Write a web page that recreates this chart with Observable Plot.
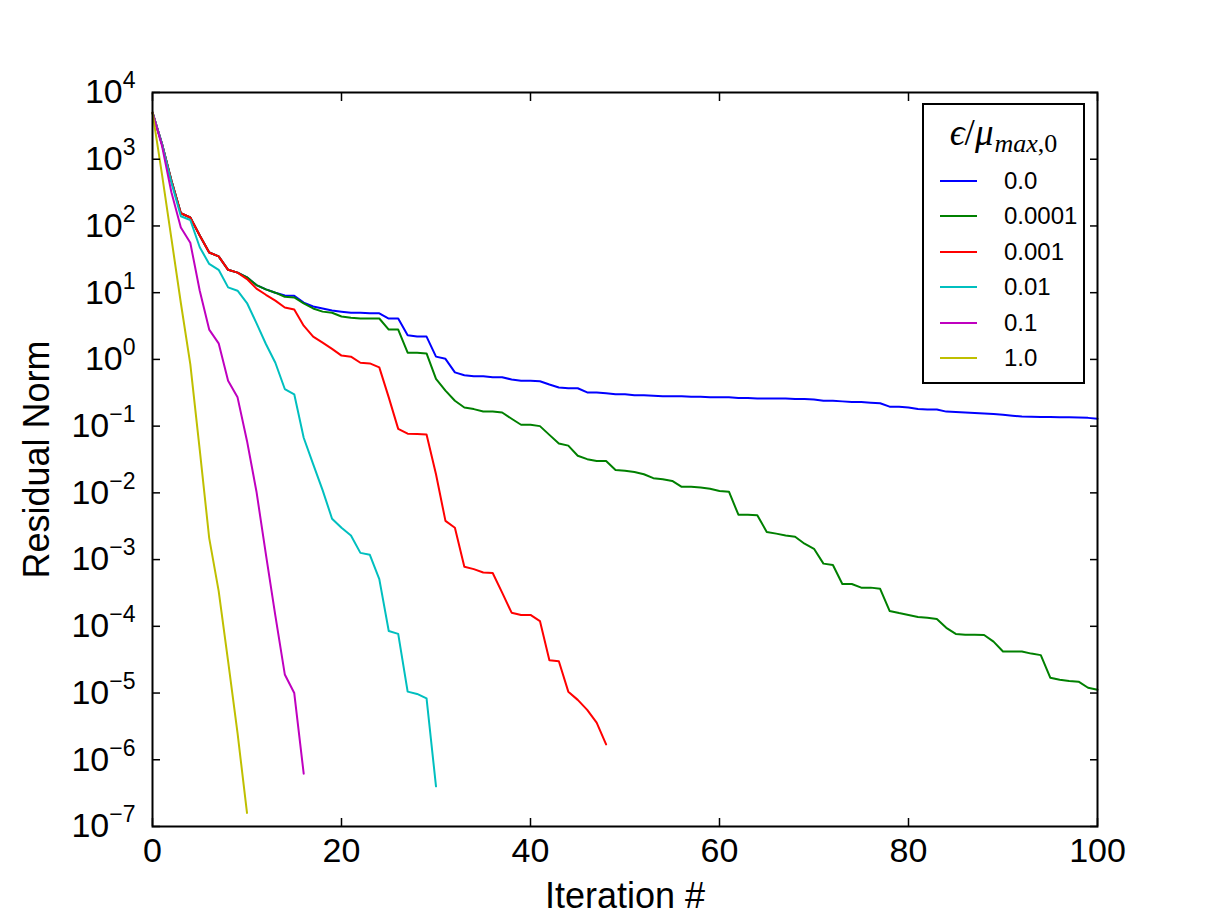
<!DOCTYPE html>
<html>
<head>
<meta charset="utf-8">
<script src="https://cdn.jsdelivr.net/npm/d3@7"></script>
<script src="https://cdn.jsdelivr.net/npm/@observablehq/plot@0.6"></script>
<style>
  html, body { margin: 0; padding: 0; background: #fff; }
  #wrap { position: relative; width: 1219px; height: 919px; font-family: "Liberation Sans", Arial, sans-serif; }
  #legend { position: absolute; left: 922px; top: 103px; width: 163px; height: 281px; box-sizing: border-box; border: 2px solid #000; background: #fff; }
  #legend .title { position: absolute; left: 0; right: 0; top: 10px; text-align: center; font-family: "Liberation Serif", "DejaVu Serif", serif; font-size: 37px; line-height: 36px; white-space: nowrap; }
  #legend .title .sub { font-size: 26px; position: relative; top: 7px; margin-left: 1px; }
  #legend .row { position: absolute; left: 0; right: 0; height: 36px; }
  #legend .swatch { position: absolute; left: 16px; width: 37px; top: 17px; height: 2px; }
  #legend .lab { position: absolute; left: 80px; top: 0; line-height: 36px; font-size: 24px; white-space: nowrap; }
</style>
</head>
<body>
<div id="wrap"></div>
<script>
// ---- data ----
const seriesLabels = ["0.0", "0.0001", "0.001", "0.01", "0.1", "1.0"];
const seriesColors = ["#0000ff", "#008000", "#ff0000", "#00bfbf", "#bf00bf", "#bfbf00"];

const res_eps_0 = [5000,1700,480,155,134,72,40,35,22,20, 17,13,11.2,10,9.1,9.0,7.1,6.2,5.8,5.4,
  5.2,5.0,5.0,4.9,4.9,4.1,4.1,2.3,2.2,2.2, 1.1,1.02,0.64,0.58,0.56,0.56,0.54,0.54,0.50,0.48,
  0.48,0.47,0.42,0.38,0.37,0.37,0.32,0.32,0.31,0.30, 0.30,0.29,0.29,0.285,0.28,0.28,0.28,0.275,0.275,0.27,
  0.27,0.27,0.265,0.265,0.26,0.26,0.26,0.26,0.255,0.255, 0.25,0.24,0.24,0.235,0.23,0.23,0.225,0.22,0.196,0.195,
  0.19,0.18,0.178,0.177,0.165,0.163,0.16,0.157,0.155,0.152, 0.148,0.143,0.139,0.138,0.137,0.137,0.136,0.136,0.135,0.133,
  0.129];
const res_eps_1e4 = [5000,1700,480,155,134,72,40,35,22,20, 17,13,11.2,10,8.7,8.5,6.9,5.8,5.2,5.0,
  4.4,4.2,4.1,4.1,4.1,2.8,2.8,1.26,1.26,1.23, 0.51,0.34,0.24,0.19,0.18,0.166,0.166,0.16,0.129,0.105,
  0.105,0.10,0.074,0.055,0.051,0.036,0.032,0.030,0.030,0.022, 0.0215,0.0206,0.019,0.0166,0.016,0.0151,0.0123,0.0123,0.012,0.0115,
  0.0107,0.0104,0.0047,0.0047,0.0046,0.0026,0.00245,0.0023,0.0022,0.00173, 0.00145,8.7e-4,8.3e-4,4.3e-4,4.3e-4,3.8e-4,3.8e-4,3.65e-4,1.7e-4,1.58e-4,
  1.48e-4,1.38e-4,1.34e-4,1.29e-4,9.5e-5,7.7e-5,7.5e-5,7.5e-5,7.4e-5,5.9e-5, 4.2e-5,4.2e-5,4.2e-5,3.9e-5,3.7e-5,1.7e-5,1.58e-5,1.52e-5,1.48e-5,1.2e-5,
  1.12e-5];
const res_eps_1e3 = [5000,1700,480,155,134,72,40,35,22,20, 16,11.5,9.3,7.6,6.0,5.6,3.2,2.2,1.78,1.44,
  1.14,1.1,0.89,0.87,0.76,0.27,0.091,0.077,0.076,0.075, 0.019,0.0038,0.003,7.8e-4,7.2e-4,6.4e-4,6.3e-4,3.2e-4,1.6e-4,1.48e-4,
  1.48e-4,1.2e-4,3.1e-5,3.0e-5,1.05e-5,7.9e-6,5.6e-6,3.6e-6,1.7e-6];
const res_eps_1e2 = [5000,1700,450,140,123,48,27,22,12,10.7, 7,3.5,1.7,0.89,0.36,0.30,0.067,0.027,0.011,0.0041,
  0.003,0.0023,0.00126,0.00118,0.00051,8.5e-5,7.7e-5,1.05e-5,9.7e-6,8.3e-6, 4e-7];
const res_eps_1e1 = [5000,1600,320,95,56,10.7,2.8,1.74,0.48,0.27, 0.06,0.0105,0.0012,1.45e-4,1.9e-5,1.0e-5,6.2e-7];
const res_eps_1 = [5000,600,65,7,0.85,0.044,0.0021,3.4e-4,3e-5,2.5e-6, 1.6e-7];

const yTickValues = [1e-7, 1e-6, 1e-5, 1e-4, 1e-3, 1e-2, 1e-1, 1e0, 1e1, 1e2, 1e3, 1e4];
const xTickValues = [0, 20, 40, 60, 80, 100];
const xLabel = "Iteration #";
const yLabel = "Residual Norm";

// ---- table ----
const allSeries = [res_eps_0, res_eps_1e4, res_eps_1e3, res_eps_1e2, res_eps_1e1, res_eps_1];
const rows = allSeries.flatMap((vals, k) => vals.map((v, i) => ({eps: seriesLabels[k], iter: i, res: v})));

const chart = Plot.plot({
  width: 1219,
  height: 919,
  marginLeft: 152,
  marginRight: 122,
  marginTop: 92,
  marginBottom: 93,
  style: {fontFamily: "Liberation Sans, Arial, sans-serif", background: "#fff", color: "#000", overflow: "visible"},
  x: {domain: [0, 100]},
  y: {type: "log", domain: [1e-7, 1e4]},
  color: {domain: seriesLabels, range: seriesColors},
  marks: [
    Plot.line(rows, {x: "iter", y: "res", z: "eps", stroke: "eps", strokeWidth: 2}),
    // inward ticks on all four sides
    Plot.axisX(xTickValues, {anchor: "bottom", tickSize: -8, fill: "none", strokeWidth: 1.5, label: null}),
    Plot.axisX(xTickValues, {anchor: "top", tickSize: -8, fill: "none", strokeWidth: 1.5, label: null}),
    Plot.axisY(yTickValues, {anchor: "left", tickSize: -8, fill: "none", strokeWidth: 1.5, label: null}),
    Plot.axisY(yTickValues, {anchor: "right", tickSize: -8, fill: "none", strokeWidth: 1.5, label: null}),
    // tick labels
    Plot.axisX(xTickValues, {anchor: "bottom", tickSize: 0, tickPadding: 11, fontSize: 34, label: null, tickFormat: d => String(d)}),
    Plot.axisY(yTickValues, {anchor: "left", tickSize: 0, tickPadding: 17, fontSize: 34, label: null,
      tickFormat: d => "10^" + Math.round(Math.log10(d))}),
    // axis titles
    Plot.axisX([], {anchor: "bottom", tickSize: 0, fontSize: 36, label: xLabel, labelAnchor: "center", labelOffset: 81, labelArrow: "none"}),
    Plot.axisY([], {anchor: "left", tickSize: 0, fontSize: 36, label: yLabel, labelAnchor: "center", labelOffset: 129, labelArrow: "none"}),
    Plot.frame({stroke: "#000", strokeWidth: 2})
  ]
});

// superscript exponents on the y tick labels
const NS = "http://www.w3.org/2000/svg";
chart.querySelectorAll('g[aria-label="y-axis tick label"] text').forEach(t => {
  const s = t.textContent;
  if (!s.includes("^")) return;
  const [base, exp] = s.split("^");
  while (t.firstChild) t.removeChild(t.firstChild);
  const t1 = document.createElementNS(NS, "tspan");
  t1.textContent = base;
  const t2 = document.createElementNS(NS, "tspan");
  t2.setAttribute("dy", "-15");
  t2.setAttribute("font-size", "23");
  t2.textContent = exp.replace("-", "\u2212");
  t.appendChild(t1);
  t.appendChild(t2);
});

const wrap = document.getElementById("wrap");
wrap.appendChild(chart);

// legend inside the axes (upper right)
const legend = document.createElement("div");
legend.id = "legend";
legend.innerHTML = '<div class="title"><i>\u03f5</i>/<i>\u03bc</i><span class="sub"><i>max</i>,0</span></div>';
seriesLabels.forEach((lab, k) => {
  const row = document.createElement("div");
  row.className = "row";
  row.style.top = (58 + k * 35.4) + "px";
  row.innerHTML = '<div class="swatch" style="background:' + seriesColors[k] + '"></div><div class="lab">' + lab + '</div>';
  legend.appendChild(row);
});
wrap.appendChild(legend);
</script>
</body>
</html>
